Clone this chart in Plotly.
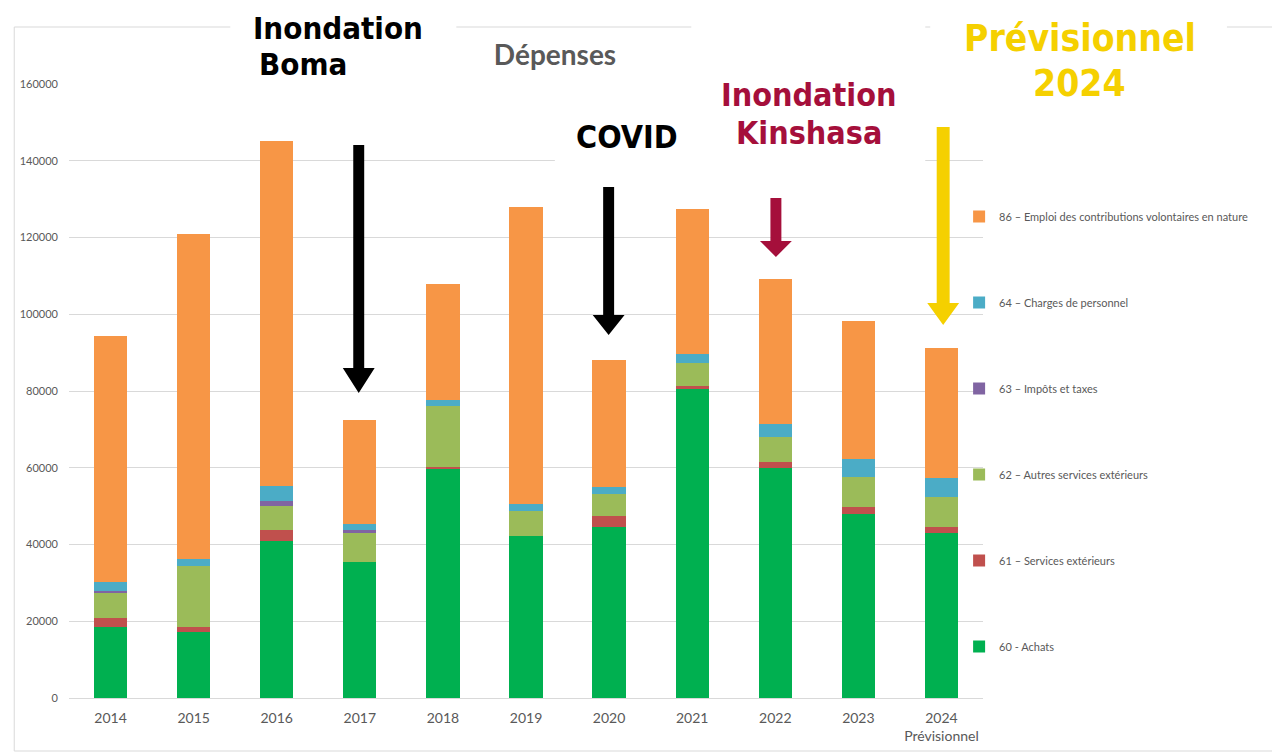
import plotly.graph_objects as go

# ---------------- data ----------------
years = ["2014", "2015", "2016", "2017", "2018", "2019", "2020", "2021", "2022", "2023", "2024"]
year_labels = ["2014", "2015", "2016", "2017", "2018", "2019", "2020", "2021", "2022", "2023",
               "2024<br>Prévisionnel"]

achats_60 = [18600, 17100, 40900, 35500, 59600, 42200, 44500, 80400, 60000, 47900, 42900]
services_61 = [2200, 1500, 2900, 0, 700, 0, 2800, 900, 1400, 1800, 1700]
autres_62 = [6700, 15900, 6200, 7400, 15900, 6500, 5900, 6100, 6500, 7800, 7900]
impots_63 = [500, 0, 1300, 900, 0, 0, 0, 0, 0, 0, 0]
personnel_64 = [2100, 1700, 4000, 1500, 1500, 1800, 1700, 2200, 3500, 4900, 4900]
contrib_86 = [64200, 84700, 89800, 27100, 30200, 77400, 33200, 37800, 37900, 35800, 33800]

series_names = [
    "60 - Achats",
    "61 – Services extérieurs",
    "62 – Autres services extérieurs",
    "63 – Impôts et taxes",
    "64 – Charges de personnel",
    "86 – Emploi des contributions volontaires en nature",
]
series_values = [achats_60, services_61, autres_62, impots_63, personnel_64, contrib_86]
series_colors = ["#00B050", "#C0504D", "#9BBB59", "#8064A2", "#4BACC6", "#F79646"]

y_ticks = [0, 20000, 40000, 60000, 80000, 100000, 120000, 140000, 160000]

# ---------------- layout geometry ----------------
# The page body has an 8px margin, so the figure starts at screen (8, 8).
OFF = 8
W, H = 1280 - OFF, 756 - OFF
# plot area in screen pixels
SL, SR, ST, SB = 65, 983, 84, 698


def px(x):
    return (x - SL) / (SR - SL)


def py(y):
    return (SB - y) / (SB - ST)


FONT = "Lato, 'Open Sans', sans-serif"
LABEL_FONT = "'DejaVu Sans Condensed', 'DejaVu Sans', Verdana, sans-serif"
GRAY = "#595959"

fig = go.Figure()
n = len(series_names)
for i, (name, vals, col) in enumerate(zip(series_names, series_values, series_colors)):
    fig.add_trace(go.Bar(
        x=years, y=vals, name=name, marker=dict(color=col, line=dict(width=0)),
        legendgroup=f"g{i}", legendrank=n - i,
    ))


def arrow(xc, ytop, ytip, shaft_w, head_w, head_h, color):
    hs = shaft_w / 2
    hh = head_w / 2
    yb = ytip - head_h
    pts = [(xc - hs, ytop), (xc + hs, ytop), (xc + hs, yb), (xc + hh, yb), (xc, ytip),
           (xc - hh, yb), (xc - hs, yb)]
    path = "M " + " L ".join(f"{px(a):.5f},{py(b):.5f}" for a, b in pts) + " Z"
    return dict(type="path", xref="paper", yref="paper", path=path,
                fillcolor=color, line=dict(width=0), layer="above")


def box(x0, y0, x1, y1, fill="white"):
    return dict(type="rect", xref="paper", yref="paper",
                x0=px(x0), x1=px(x1), y0=py(y1), y1=py(y0),
                fillcolor=fill, line=dict(width=0), layer="above")


shapes = [
    # outer frame
    dict(type="rect", xref="paper", yref="paper", x0=px(10), x1=px(1278), y0=py(751), y1=py(27),
         fillcolor="rgba(0,0,0,0)", line=dict(color="#D9D9D9", width=1), layer="above"),
    # white label boxes
    box(227, 0, 454, 96),
    box(553, 104, 705, 166),
    box(690, 0, 925, 164),
    box(930, 0, 1228, 108),
    # arrows
    arrow(356, 145, 393, 11, 32, 25, "#000000"),
    arrow(607, 187, 335, 11, 32, 20, "#000000"),
    arrow(775, 198, 257, 11, 32, 16, "#A50F3B"),
    arrow(943, 127, 325, 13, 32, 22, "#F5D000"),
]


def label(text, x, y, color, size):
    return dict(text=f"<b>{text}</b>", xref="paper", yref="paper", x=px(x), y=py(y),
                xanchor="center", yanchor="middle", showarrow=False, borderpad=0,
                font=dict(family=LABEL_FONT, size=size, color=color))


annotations = [
    label("Inondation", 335, 28, "#000000", 31),
    label("Boma", 300, 64, "#000000", 31),
    label("COVID", 625, 137, "#000000", 32),
    label("Inondation", 808, 95, "#A50F3B", 32),
    label("Kinshasa", 808, 133, "#A50F3B", 32),
    label("Prévisionnel", 1080, 39, "#F5D000", 37),
    label("2024", 1080, 83, "#F5D000", 37),
]

fig.update_layout(
    width=W, height=H,
    margin=dict(l=SL - OFF, r=W - (SR - OFF), t=ST - OFF, b=H - (SB - OFF), pad=0),
    barmode="stack", bargap=0.6,
    paper_bgcolor="white", plot_bgcolor="white",
    font=dict(family=FONT, color=GRAY),
    title=dict(text="<b>Dépenses</b>", x=(555 - OFF) / W, xanchor="center", xref="container",
               y=1 - (55 - OFF) / H, yanchor="middle", yref="container",
               font=dict(family=FONT, size=28, color=GRAY)),
    xaxis=dict(categoryorder="array", categoryarray=years, tickmode="array",
               tickvals=years, ticktext=year_labels, showgrid=False, showline=False,
               ticks="", ticklabelstandoff=10, tickfont=dict(size=14, color=GRAY)),
    yaxis=dict(range=[0, 160000], tickvals=y_ticks, ticktext=[str(v) for v in y_ticks],
               showgrid=True, gridcolor="#D9D9D9", gridwidth=1, zeroline=True,
               zerolinecolor="#D9D9D9", zerolinewidth=1, showline=False, ticks="",
               ticklabelstandoff=10, tickfont=dict(size=11, color=GRAY)),
    legend=dict(x=px(959), xanchor="left", y=py(202), yanchor="top",
                traceorder="grouped", tracegroupgap=67,
                font=dict(size=11, color=GRAY), bgcolor="rgba(0,0,0,0)"),
    shapes=shapes,
    annotations=annotations,
)

fig.write_html("out.html")
